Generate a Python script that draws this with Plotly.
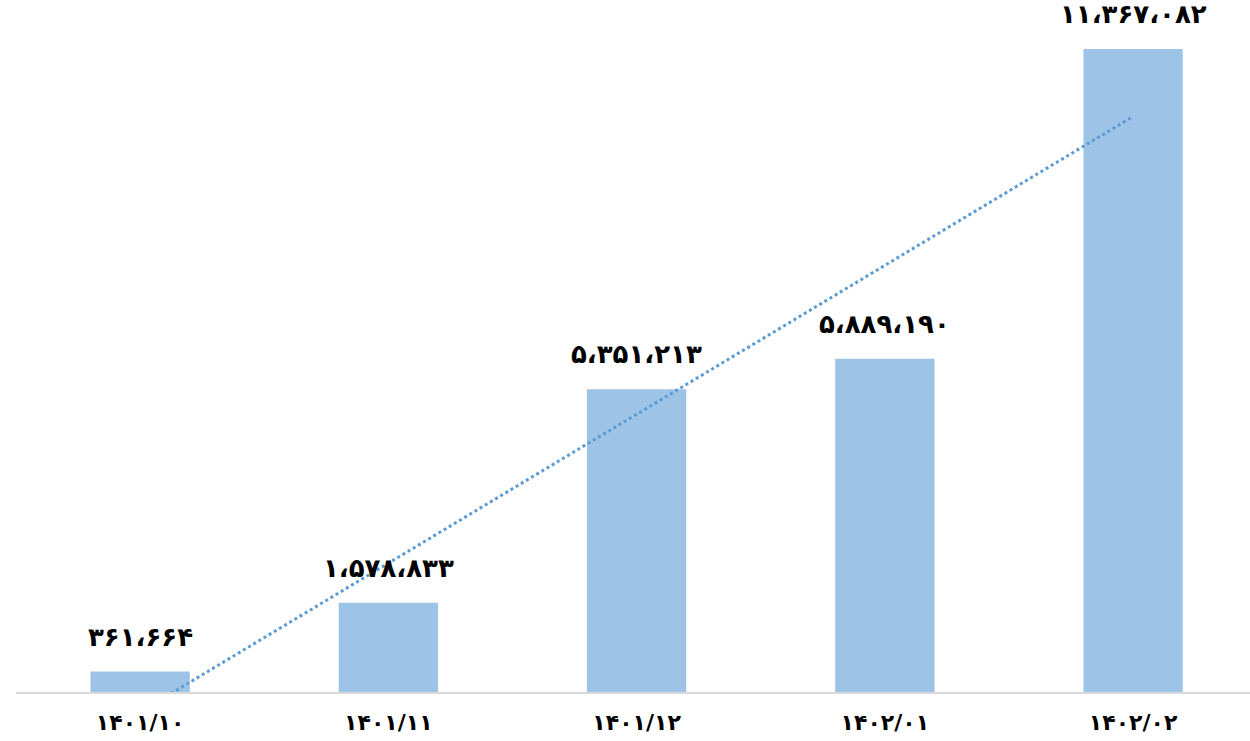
import numpy as np
import plotly.graph_objects as go

# Monthly totals
months = ["۱۴۰۱/۱۰", "۱۴۰۱/۱۱", "۱۴۰۱/۱۲", "۱۴۰۲/۰۱", "۱۴۰۲/۰۲"]
values = [361664, 1578833, 5351213, 5889190, 11367082]

PERSIAN_DIGITS = str.maketrans("0123456789", "۰۱۲۳۴۵۶۷۸۹")


def fa_number(v):
    return f"{v:,}".replace(",", "،").translate(PERSIAN_DIGITS)


# Linear trend over the month index
idx = np.arange(1, len(values) + 1)
slope, intercept = np.polyfit(idx, values, 1)
trend = slope * idx + intercept

BAR = "#9DC3E6"
TREND = "#5B9BD5"
FONT = "DejaVu Sans"

fig = go.Figure()
fig.add_trace(go.Bar(
    x=months, y=values, marker=dict(color=BAR, line=dict(width=0)),
    hoverinfo="skip",
))
fig.add_trace(go.Scatter(
    x=months, y=trend, mode="lines",
    line=dict(color=TREND, width=3, dash="dot"),
    hoverinfo="skip",
))

for m, v in zip(months, values):
    fig.add_annotation(
        x=m, y=v, text=fa_number(v), showarrow=False,
        yanchor="bottom", yshift=18,
        font=dict(family=FONT, size=26, color="black", weight="bold"),
    )

fig.update_layout(
    width=1250, height=741,
    paper_bgcolor="white", plot_bgcolor="white",
    margin=dict(l=16, r=0, t=20, b=49),
    showlegend=False,
    bargap=0.6,
    xaxis=dict(
        type="category", range=[-0.5, 4.471],
        showgrid=False, zeroline=False,
        showline=True, linecolor="#D9D9D9", linewidth=2,
        ticks="", ticklabelstandoff=10,
        tickfont=dict(family=FONT, size=22, color="black", weight="bold"),
    ),
    yaxis=dict(
        range=[0, 11.88e6], visible=False, showgrid=False, zeroline=False,
    ),
)

fig.write_html("out.html")
